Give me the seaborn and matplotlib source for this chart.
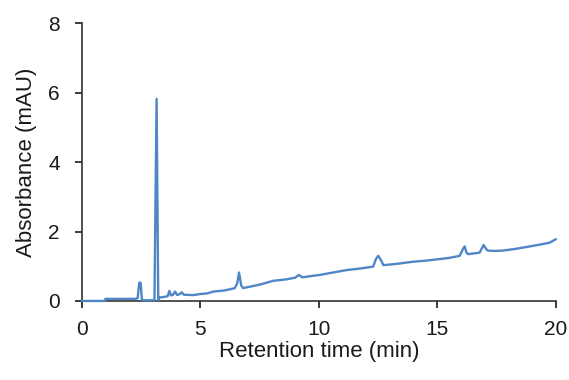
import matplotlib
matplotlib.use("Agg")
import matplotlib.pyplot as plt
import seaborn as sns
import pandas as pd

# Chromatogram trace
time_min = [0.0, 0.97, 0.99, 2.25, 2.35, 2.42, 2.48, 2.53, 3.06, 3.15, 3.22, 3.28,
            3.50, 3.62, 3.69, 3.76, 3.85, 3.93, 4.02, 4.13, 4.21, 4.30, 4.70, 5.00,
            5.30, 5.54, 6.00, 6.20, 6.45, 6.55, 6.63, 6.72, 6.80, 7.50, 8.07, 8.60,
            9.00, 9.15, 9.30, 9.70, 10.04, 10.60, 11.17, 11.80, 12.29, 12.40, 12.50,
            12.60, 12.72, 13.30, 13.97, 14.50, 15.00, 15.50, 15.94, 16.08, 16.15,
            16.22, 16.29, 16.55, 16.78, 16.88, 16.95, 17.05, 17.13, 17.40, 17.76,
            18.30, 18.89, 19.30, 19.74, 20.00]
absorbance = [0.00, 0.00, 0.06, 0.06, 0.08, 0.53, 0.52, 0.02, 0.02, 5.82, 0.02, 0.10,
              0.12, 0.14, 0.29, 0.16, 0.18, 0.27, 0.17, 0.20, 0.25, 0.18, 0.17, 0.20,
              0.22, 0.27, 0.30, 0.33, 0.37, 0.50, 0.82, 0.45, 0.37, 0.47, 0.58, 0.62,
              0.67, 0.75, 0.68, 0.72, 0.75, 0.82, 0.89, 0.94, 0.99, 1.20, 1.30,
              1.20, 1.03, 1.07, 1.13, 1.16, 1.20, 1.24, 1.30, 1.50, 1.57,
              1.40, 1.35, 1.37, 1.39, 1.52, 1.61, 1.50, 1.45, 1.44, 1.45,
              1.50, 1.57, 1.62, 1.68, 1.78]

x_ticks = [0, 5, 10, 15, 20]
y_ticks = [0, 2, 4, 6, 8]
x_label = "Retention time (min)"
y_label = "Absorbance (mAU)"

sns.set_theme(style="ticks")
plt.rcParams["font.family"] = ["Liberation Sans", "DejaVu Sans"]

df = pd.DataFrame({"t": time_min, "a": absorbance})

fig = plt.figure(figsize=(5.69, 3.80), dpi=100)
ax = fig.add_axes([0.144, 0.208, 0.833, 0.731])
sns.lineplot(data=df, x="t", y="a", ax=ax, color="#4f86c6", linewidth=1.7,
             estimator=None, sort=False, zorder=3, clip_on=False)

ax.set_xlim(0, 20)
ax.set_ylim(0, 8)
ax.set_xticks(x_ticks)
ax.set_yticks(y_ticks)
ax.set_xlabel(x_label, fontsize=16, color="#1a1a1a", labelpad=1)
ax.set_ylabel(y_label, fontsize=16, color="#1a1a1a", labelpad=8)
ax.tick_params(axis="both", labelsize=15, colors="#1a1a1a", length=5, width=1.2,
               direction="out")
ax.tick_params(axis="x", pad=9)
ax.tick_params(axis="y", pad=11)
for s in ["top", "right"]:
    ax.spines[s].set_visible(False)
for s in ["left", "bottom"]:
    ax.spines[s].set_color("#333333")
    ax.spines[s].set_linewidth(1.2)

fig.savefig("out.png", dpi=100)
